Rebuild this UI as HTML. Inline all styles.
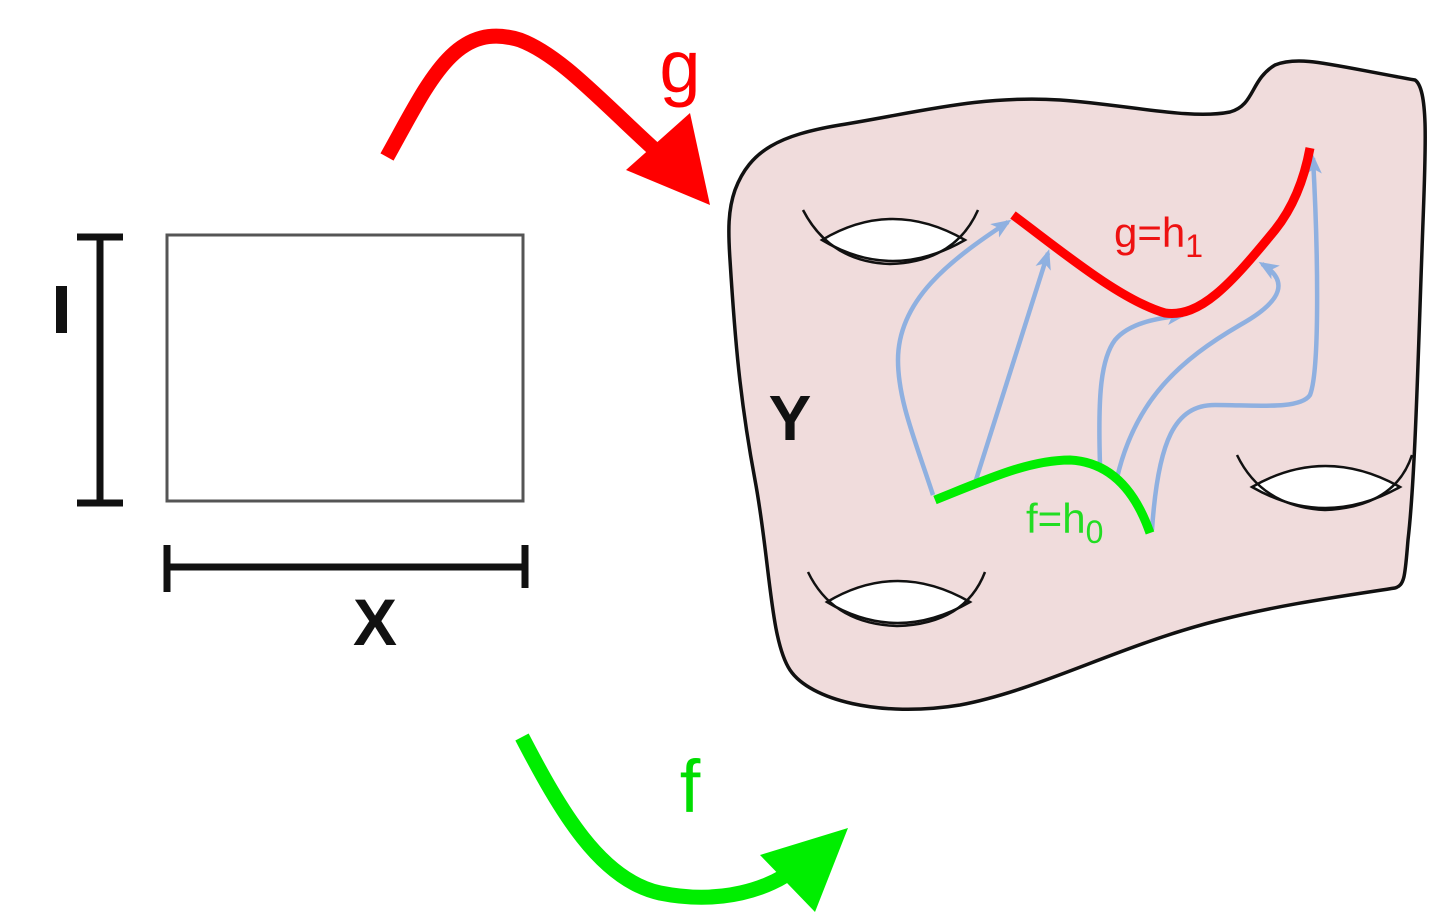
<!DOCTYPE html>
<html><head><meta charset="utf-8"><style>
html,body{margin:0;padding:0;background:#fff;width:1434px;height:913px;overflow:hidden}
svg{display:block}
text{font-family:"Liberation Sans","DejaVu Sans",sans-serif}
</style></head><body>
<svg width="1434" height="913" viewBox="0 0 1434 913">
  <rect x="167" y="235" width="356" height="266" fill="#fff" stroke="#555" stroke-width="3"/>
  <g stroke="#111" stroke-width="7" fill="none">
    <line x1="100" y1="237" x2="100" y2="503"/>
    <line x1="77" y1="237" x2="123" y2="237"/>
    <line x1="77" y1="503" x2="123" y2="503"/>
  </g>
  <rect x="56" y="286" width="11" height="47" fill="#111"/>
  <g stroke="#111" stroke-width="7" fill="none">
    <line x1="167" y1="567" x2="525" y2="567"/>
    <line x1="167" y1="545" x2="167" y2="592"/>
    <line x1="525" y1="545" x2="525" y2="588"/>
  </g>
  <text x="375" y="645" font-size="66" font-weight="bold" text-anchor="middle" fill="#111">X</text>

  <g>
    <path d="M387,157 C430,80 455,20 520,40 C560,55 600,100 655,150" fill="none" stroke="#ff0000" stroke-width="15"/>
    <polygon points="626,170 690,113 710,205" fill="#ff0000"/>
  </g>
  <text x="680" y="92" font-size="74" fill="#ff0000" text-anchor="middle">g</text>

  <g>
    <path d="M522,737 C560,810 600,880 660,893 C720,905 770,890 800,865" fill="none" stroke="#00ee00" stroke-width="15"/>
    <polygon points="760,855 848,828 815,912" fill="#00ee00"/>
  </g>
  <text x="690" y="812" font-size="74" fill="#00dd00" text-anchor="middle">f</text>

  <path fill="#f0dcdc" stroke="#111" stroke-width="3.5"
    d="M735,190 C750,150 780,135 840,125 C920,112 980,95 1060,100 C1130,105 1190,120 1230,112 C1255,105 1250,80 1275,65 C1300,55 1330,65 1415,80 C1430,90 1425,160 1422,250 C1418,360 1415,480 1408,540 C1405,575 1405,585 1395,588 C1330,598 1280,605 1220,620 C1120,645 1040,690 960,705 C880,718 810,700 790,670 C770,640 770,560 755,480 C740,400 735,340 730,260 C728,230 728,210 735,190 Z"/>

  <g>
    <path d="M822,240 Q892,198 965,240 Q892,282 822,240 Z" fill="#fff" stroke="#111" stroke-width="2.5"/>
    <path d="M803,210 Q830,262 890,264 Q955,262 978,210" fill="none" stroke="#111" stroke-width="2.5"/>
  </g>
  <g>
    <path d="M1252,487 Q1325,445 1400,487 Q1325,529 1252,487 Z" fill="#fff" stroke="#111" stroke-width="2.5"/>
    <path d="M1237,455 Q1262,507 1325,510 Q1395,507 1412,455" fill="none" stroke="#111" stroke-width="2.5"/>
  </g>
  <g>
    <path d="M827,602 Q897,560 970,602 Q897,644 827,602 Z" fill="#fff" stroke="#111" stroke-width="2.5"/>
    <path d="M808,572 Q833,624 897,626 Q965,624 985,572" fill="none" stroke="#111" stroke-width="2.5"/>
  </g>
  <text x="790" y="440" font-size="64" font-weight="bold" fill="#111" text-anchor="middle">Y</text>

  <defs>
    <marker id="ah" markerWidth="20" markerHeight="16" refX="16" refY="8" orient="auto" markerUnits="userSpaceOnUse">
      <path d="M0,0 L20,8 L0,16 L5,8 Z" fill="#8fb0e0"/>
    </marker>
  </defs>
  <g fill="none" stroke="#8fb0e0" stroke-width="4.5" marker-end="url(#ah)">
    <path d="M933,495 C915,440 898,400 898,360 C898,300 950,260 1008,222"/>
    <path d="M975,483 L1048,253"/>
    <path d="M1100,465 C1098,400 1100,360 1115,340 C1130,322 1160,318 1183,315"/>
    <path d="M1117,478 C1135,400 1180,360 1240,325 C1285,300 1288,280 1262,264"/>
    <path d="M1152,530 C1158,440 1175,405 1215,405 C1255,405 1300,410 1310,395 C1320,370 1318,250 1313,158"/>
  </g>

  <path d="M1013,215 C1060,250 1120,300 1165,313 C1200,318 1230,285 1275,230 C1295,205 1305,175 1310,148" fill="none" stroke="#ff0000" stroke-width="9"/>
  <path d="M935,500 C990,478 1030,460 1070,460 C1110,462 1135,490 1150,533" fill="none" stroke="#00ee00" stroke-width="9"/>

  <text x="1114" y="247" font-size="42" fill="#ee1111">g=h<tspan font-size="32" dy="10">1</tspan></text>
  <text x="1026" y="533" font-size="42" fill="#22dd22">f=h<tspan font-size="32" dy="10">0</tspan></text>
</svg>
</body></html>
